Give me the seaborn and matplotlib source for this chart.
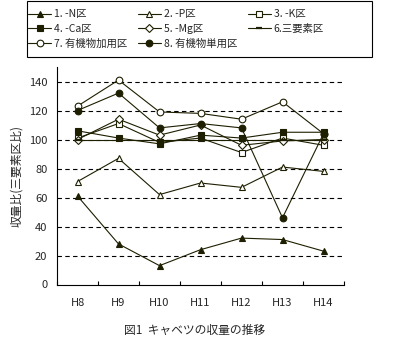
import matplotlib
matplotlib.use("Agg")
import matplotlib.pyplot as plt
from matplotlib.ticker import FixedLocator
from matplotlib.patches import Rectangle
import seaborn as sns
import pandas as pd

sns.set_style("white")
plt.rcParams['font.family'] = ['Noto Sans CJK JP', 'DejaVu Sans']

# data (yield ratio vs. 三要素区 = 100)
years = ["H8", "H9", "H10", "H11", "H12", "H13", "H14"]
minus_n = [61, 28, 13, 24, 32, 31, 23]
minus_p = [71, 87, 62, 70, 67, 81, 78]
minus_k = [101, 111, 98, 101, 91, 101, 96]
minus_ca = [106, 101, 97, 103, 101, 105, 105]
minus_mg = [100, 114, 103, 110, 96, 99, 100]
npk = [100, 100, 100, 100, 100, 100, 100]
organic_add = [123, 141, 119, 118, 114, 126, 104]
organic_only = [120, 132, 108, 111, 108, 46, 104]

names = ["1. -N区", "2. -P区", "3. -K区", "4. -Ca区", "5. -Mg区",
         "6.三要素区", "7. 有機物加用区", "8. 有機物単用区"]
series = [minus_n, minus_p, minus_k, minus_ca, minus_mg, npk, organic_add, organic_only]

ink = "#1e1e00"
# marker, filled
styles = [("^", True), ("^", False), ("s", False), ("s", True),
          ("D", False), ("_", True), ("o", False), ("o", True)]

fig = plt.figure(figsize=(4.01, 3.57), dpi=100)
ax = fig.add_axes([57 / 401, 1 - 284.5 / 357, 287 / 401, 217.5 / 357])

handles = []
for name, vals, (mk, filled) in zip(names, series, styles):
    df = pd.DataFrame({"year": years, "ratio": vals})
    size = 4.8 if mk != "D" else 3.8
    mew = 0.8
    if mk == "_":
        size, mew = 5, 1.6
    sns.lineplot(data=df, x="year", y="ratio", ax=ax, color=ink, lw=0.8,
                 marker=mk, markersize=size, markeredgecolor=ink,
                 markerfacecolor=ink if filled else "white", markeredgewidth=mew,
                 label=name)
    handles.append(ax.lines[-1])

ax.legend_.remove()
ax.set_xlim(-0.5, 6.5)
ax.set_ylim(0, 150)
ax.set_yticks(range(0, 141, 20))
for y in range(20, 141, 20):
    ax.axhline(y, color="black", lw=0.8, ls=(0, (4, 3)), zorder=0)

ax.xaxis.set_minor_locator(FixedLocator([i - 0.5 for i in range(8)]))
ax.tick_params(axis="x", which="major", length=0, pad=10, labelsize=8)
ax.tick_params(axis="x", which="minor", direction="in", length=3, width=0.8,
               bottom=True, color="black")
ax.tick_params(axis="y", length=0, pad=7, labelsize=8)
for s in ["top", "right"]:
    ax.spines[s].set_visible(False)
for s in ["left", "bottom"]:
    ax.spines[s].set_color("black")
    ax.spines[s].set_linewidth(0.8)
ax.set_xlabel("")
ax.set_ylabel("収量比(三要素区比)", fontsize=8.5, labelpad=4)

# legend laid out row by row (matplotlib fills columns first)
order = [0, 3, 6, 1, 4, 7, 2, 5]
leg = fig.legend([handles[i] for i in order], [names[i] for i in order],
                 loc="upper left", bbox_to_anchor=(24 / 401, 1 - 5 / 357),
                 ncol=3, fontsize=7.5, frameon=False,
                 handlelength=2.2, handletextpad=0.3,
                 columnspacing=1.0, labelspacing=0.45, borderpad=0.4,
                 borderaxespad=0)
fig.patches.append(Rectangle((27 / 401, 1 - 57 / 357), 345 / 401, 56 / 357,
                             transform=fig.transFigure, fill=False,
                             edgecolor="black", linewidth=0.8))

fig.text(195 / 401, 1 - 330 / 357, "図1  キャベツの収量の推移", ha="center",
         va="center", fontsize=8.5)

fig.savefig("out.png", dpi=100)
